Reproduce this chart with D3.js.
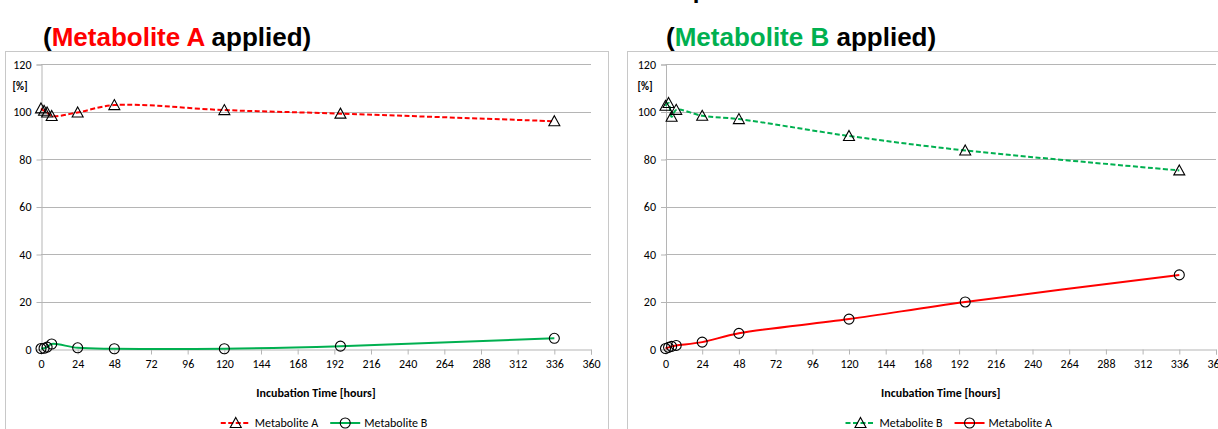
<!DOCTYPE html>
<html>
<head>
<meta charset="utf-8">
<title>Metabolite incubation</title>
<script src="https://d3js.org/d3.v7.min.js"></script>
<style>
  html, body { margin: 0; padding: 0; background: #fff; }
  svg { display: block; }
  .tick text { font-family: Carlito, Calibri, Lato, sans-serif; font-size: 12px; fill: #000; }
</style>
</head>
<body>
<div id="chart"></div>
<script>
(function () {

    "use strict";

    // sampling times (hours), same for both experiments
    var hours = [0, 2, 4, 7, 24, 48, 120, 196, 336];

    // Metabolite A applied
    var leftMetA = [101.3, 100.3, 99.6, 98.1, 99.6, 102.7, 100.6, 99.1, 95.9];
    var leftMetB = [0.2, 0.3, 0.8, 2.1, 0.5, 0.1, 0.1, 1.2, 4.5];

    // Metabolite B applied
    var rightMetB = [102.4, 103.6, 97.8, 100.7, 98.2, 96.8, 89.7, 83.6, 75.2];
    var rightMetA = [0.2, 0.7, 1.1, 1.5, 2.9, 6.6, 12.6, 19.8, 31.2];

    var xTicks = d3.range(0, 361, 24);
    var yTicks = [0, 20, 40, 60, 80, 100, 120];

    var RED = "#ff0000",
        GREEN = "#00b050",
        GRID = "#b5b5b5",
        BORDER = "#c8c8c8";

    var W = 1218, H = 429;

    var svg = d3.select("#chart")
        .append("svg")
        .attr("width", W)
        .attr("height", H);

    // top title, only its lower edge is inside the picture
    svg.append("text")
        .attr("x", 700)
        .attr("y", -2)
        .attr("text-anchor", "middle")
        .attr("font-family", "Liberation Sans, Arial, sans-serif")
        .attr("font-weight", "bold")
        .attr("font-size", 24)
        .text("p");

    var panels = [
        {
            box: [5.5, 51.5, 603, 400],
            x0: 41, x1: 591,
            title: [{t: "(", c: "#000"}, {t: "Metabolite A", c: RED}, {t: " applied)", c: "#000"}],
            titleX: 43,
            pctX: 20,
            series: [
                {name: "Metabolite A", values: leftMetA, color: RED, dash: "5,2.5", marker: "triangle"},
                {name: "Metabolite B", values: leftMetB, color: GREEN, dash: null, marker: "circle"}
            ]
        },
        {
            box: [627.5, 51.5, 700, 400],
            x0: 665.5, x1: 1216,
            title: [{t: "(", c: "#000"}, {t: "Metabolite B", c: GREEN}, {t: " applied)", c: "#000"}],
            titleX: 666,
            pctX: 645,
            series: [
                {name: "Metabolite B", values: rightMetB, color: GREEN, dash: "5,2.5", marker: "triangle"},
                {name: "Metabolite A", values: rightMetA, color: RED, dash: null, marker: "circle"}
            ]
        }
    ];

    var yTop = 64, yBot = 349;

    function drawMarker(sel, kind) {
        if (kind === "triangle") {
            sel.append("path")
                .attr("d", "M0,-5.5L5.5,4.5L-5.5,4.5Z")
                .attr("fill", "none")
                .attr("stroke", "#000")
                .attr("stroke-width", 1.1);
        } else {
            sel.append("circle")
                .attr("r", 5)
                .attr("fill", "none")
                .attr("stroke", "#000")
                .attr("stroke-width", 1.1);
        }
    }

    panels.forEach(function (p) {

        // chart area border
        svg.append("rect")
            .attr("x", p.box[0]).attr("y", p.box[1])
            .attr("width", p.box[2]).attr("height", p.box[3])
            .attr("fill", "none")
            .attr("stroke", BORDER)
            .attr("stroke-width", 1);

        // title made of coloured runs
        var title = svg.append("text")
            .attr("x", p.titleX)
            .attr("y", 46)
            .attr("font-family", "Liberation Sans, Arial, sans-serif")
            .attr("font-weight", "bold")
            .attr("font-size", 26);
        p.title.forEach(function (r) {
            title.append("tspan").attr("fill", r.c).text(r.t);
        });

        var x = d3.scaleLinear().domain([0, 360]).range([p.x0, p.x1]);
        var y = d3.scaleLinear().domain([0, 120]).range([yBot, yTop]);

        // horizontal grid
        svg.append("g")
            .selectAll("line")
            .data(yTicks.filter(function (d) { return d > 0; }))
            .join("line")
            .attr("x1", p.x0).attr("x2", p.x1)
            .attr("y1", function (d) { return Math.round(y(d)) + 0.5; })
            .attr("y2", function (d) { return Math.round(y(d)) + 0.5; })
            .attr("stroke", GRID)
            .attr("stroke-width", 1);

        // y axis
        var yAxis = svg.append("g")
            .attr("transform", "translate(" + (p.x0 + 0.5) + ",0.5)")
            .call(d3.axisLeft(y).tickValues(yTicks).tickSize(5).tickPadding(5));
        yAxis.select(".domain").attr("stroke", GRID);
        yAxis.selectAll(".tick line").attr("stroke", GRID);

        // x axis
        var xAxis = svg.append("g")
            .attr("transform", "translate(0," + (yBot + 0.5) + ")")
            .call(d3.axisBottom(x).tickValues(xTicks).tickSize(5).tickPadding(5));
        xAxis.select(".domain").attr("stroke", GRID);
        xAxis.selectAll(".tick line").attr("stroke", GRID);

        // unit label
        svg.append("text")
            .attr("x", p.pctX)
            .attr("y", 90)
            .attr("text-anchor", "middle")
            .attr("font-family", "Carlito, Calibri, Lato, sans-serif")
            .attr("font-weight", "bold")
            .attr("font-size", 11)
            .text("[%]");

        // axis title
        svg.append("text")
            .attr("x", (p.x0 + p.x1) / 2)
            .attr("y", 397)
            .attr("text-anchor", "middle")
            .attr("font-family", "Carlito, Calibri, Lato, sans-serif")
            .attr("font-weight", "bold")
            .attr("font-size", 12)
            .text("Incubation Time [hours]");

        var line = d3.line()
            .x(function (d) { return x(d[0]); })
            .y(function (d) { return y(d[1]); })
            .curve(d3.curveCatmullRom.alpha(0.5));

        p.series.forEach(function (s) {
            var pts = hours.map(function (h, i) { return [h, s.values[i]]; });

            svg.append("path")
                .datum(pts)
                .attr("d", line)
                .attr("fill", "none")
                .attr("stroke", s.color)
                .attr("stroke-width", 2)
                .attr("stroke-dasharray", s.dash);

            svg.append("g")
                .selectAll("g")
                .data(pts)
                .join("g")
                .attr("transform", function (d) { return "translate(" + x(d[0]) + "," + y(d[1]) + ")"; })
                .each(function () { drawMarker(d3.select(this), s.marker); });
        });

        // legend, centred under the plot
        var legend = svg.append("g");
        var cx = 0;
        p.series.forEach(function (s) {
            var item = legend.append("g").attr("transform", "translate(" + cx + ",0)");
            item.append("line")
                .attr("x1", 0).attr("x2", 30)
                .attr("y1", 0).attr("y2", 0)
                .attr("stroke", s.color)
                .attr("stroke-width", 2)
                .attr("stroke-dasharray", s.dash);
            drawMarker(item.append("g").attr("transform", "translate(15,0)"), s.marker);
            var t = item.append("text")
                .attr("x", 34)
                .attr("y", 4)
                .attr("font-family", "Carlito, Calibri, Lato, sans-serif")
                .attr("font-size", 12)
                .text(s.name);
            cx += 34 + t.node().getComputedTextLength() + 12;
        });
        var lw = cx - 12;
        legend.attr("transform", "translate(" + ((p.x0 + p.x1) / 2 + 8 - lw / 2) + ",423)");
    });

}());
</script>
</body>
</html>
